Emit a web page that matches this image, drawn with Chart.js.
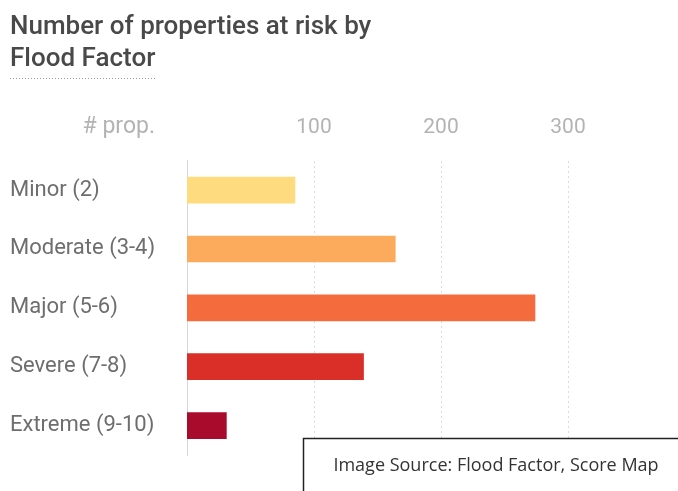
<!DOCTYPE html>
<html>
<head>
<meta charset="utf-8">
<script src="https://cdn.jsdelivr.net/npm/chart.js@4"></script>
<style>
  html, body { margin: 0; padding: 0; background: #fff; }
  #wrap { width: 678px; height: 491px; }
</style>
</head>
<body>
<div id="wrap"><canvas id="flood-chart"></canvas></div>
<script>
const categories = ['Minor (2)', 'Moderate (3-4)', 'Major (5-6)', 'Severe (7-8)', 'Extreme (9-10)'];
const propCounts = [85, 164, 274, 139, 31];
const barColors = ['#fedb7e', '#fcaa5c', '#f46b3e', '#da2f28', '#a80b2c'];
const xTicks = [100, 200, 300];

const extras = {
    id: 'extras',
    afterDraw(chart) {
        const ctx = chart.ctx;
        const area = chart.chartArea;
        ctx.save();

        // dotted underline under the title
        ctx.strokeStyle = '#9a9a9a';
        ctx.lineWidth = 1;
        ctx.setLineDash([1, 2]);
        ctx.beginPath();
        ctx.moveTo(10, 78.5);
        ctx.lineTo(156, 78.5);
        ctx.stroke();
        ctx.setLineDash([]);

        // axis caption, same row as the tick labels
        ctx.fillStyle = '#b3b3b3';
        ctx.font = '23px Roboto';
        ctx.textAlign = 'right';
        ctx.textBaseline = 'middle';
        ctx.fillText('# prop.', 155, area.top - 33);

        // source box
        ctx.fillStyle = '#fff';
        ctx.strokeStyle = '#222';
        ctx.lineWidth = 1.5;
        ctx.fillRect(303, 438, 400, 80);
        ctx.strokeRect(303.5, 438.5, 400, 80);
        ctx.fillStyle = '#333';
        ctx.font = '18px "Open Sans"';
        ctx.textAlign = 'center';
        ctx.fillText('Image Source: Flood Factor, Score Map', 496, 466);
        ctx.restore();
    }
};

new Chart(document.getElementById('flood-chart'), {
    type: 'bar',
    data: {
        labels: categories,
        datasets: [{
            data: propCounts,
            backgroundColor: barColors,
            borderWidth: 0,
            barThickness: 26
        }]
    },
    options: {
        indexAxis: 'y',
        responsive: true,
        maintainAspectRatio: false,
        animation: false,
        layout: {
            padding: { left: 10, right: 110, top: 0, bottom: 36 }
        },
        plugins: {
            legend: { display: false },
            tooltip: { enabled: false },
            title: {
                display: true,
                text: ['Number of properties at risk by', 'Flood Factor'],
                align: 'start',
                color: '#494949',
                font: { family: 'Roboto', size: 26, weight: '500', lineHeight: 1.23 },
                padding: { top: 12, bottom: 19.5 }
            }
        },
        scales: {
            x: {
                position: 'top',
                min: 0,
                max: 300,
                afterBuildTicks: axis => {
                    axis.ticks = xTicks.map(v => ({ value: v }));
                },
                ticks: {
                    color: '#b3b3b3',
                    font: { family: 'Roboto', size: 21 },
                    padding: 20
                },
                grid: {
                    color: '#dcdcdc',
                    drawTicks: false,
                    lineWidth: 1
                },
                border: { display: false, dash: [2, 3] }
            },
            y: {
                afterFit: axis => { axis.width = 177; },
                ticks: {
                    color: '#6e6e6e',
                    crossAlign: 'far',
                    font: { family: 'Roboto', size: 22 }
                },
                grid: { display: false },
                border: { display: true, color: '#cfd8dc', width: 1 }
            }
        }
    },
    plugins: [extras]
});
</script>
</body>
</html>
